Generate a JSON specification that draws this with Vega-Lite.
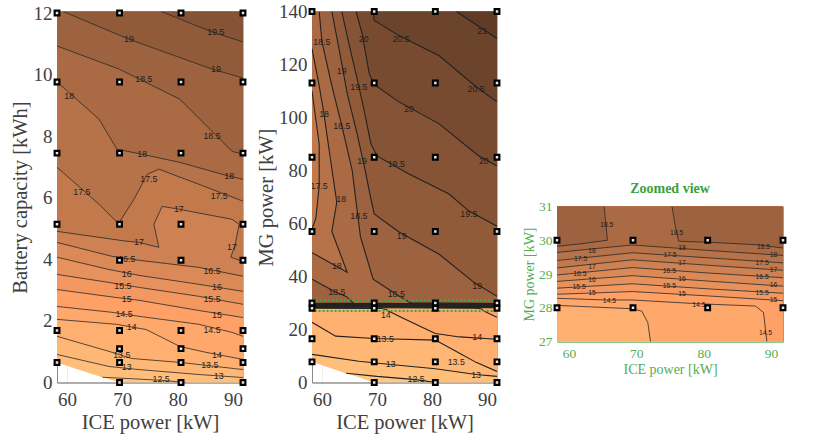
{
"$schema": "https://vega.github.io/schema/vega-lite/v6.json",
"padding": {"left": 9, "top": 1.5, "right": 5, "bottom": 5},
"background": "white",
"config": {
  "view": {"stroke": "#b5b5b5"},
  "axis": {"labelFont": "Liberation Serif", "titleFont": "Liberation Serif", "labelFontSize": 19, "titleFontSize": 20.5, "titleFontWeight": "normal", "labelColor": "#404040", "titleColor": "#404040", "domainColor": "#8a8a8a", "ticks": false, "grid": true, "gridColor": "#000000", "gridOpacity": 0.07, "zindex": 1},
  "axisX": {"labelPadding": 8, "titlePadding": 3},
  "axisY": {"labelPadding": 5, "titlePadding": 3}
},
"datasets": {
 "p1": [
  {"lv":12,"g":"p00","i":0,"x":58.2,"y":0.65},{"lv":12,"g":"p00","i":1,"x":69.5,"y":0},{"lv":12,"g":"p00","i":2,"x":91.8,"y":0},{"lv":12,"g":"p00","i":3,"x":91.8,"y":12.05},{"lv":12,"g":"p00","i":4,"x":58.2,"y":12.05},
  {"lv":12.5,"g":"p01","i":0,"x":66.4,"y":0.17,"k":"a01"},{"lv":12.5,"g":"p01","i":1,"x":72,"y":0.12,"k":"a01"},{"lv":12.5,"g":"p01","i":2,"x":77,"y":0.07,"k":"a01"},{"lv":12.5,"g":"p01","i":3,"x":81.5,"y":0,"k":"a01"},{"lv":12.5,"g":"p01","i":4,"x":91.8,"y":0},{"lv":12.5,"g":"p01","i":5,"x":91.8,"y":12.05},{"lv":12.5,"g":"p01","i":6,"x":58.2,"y":12.05},{"lv":12.5,"g":"p01","i":7,"x":58.2,"y":0.65},
  {"lv":13,"g":"p02","i":0,"x":58.2,"y":0.91,"k":"a02"},{"lv":13,"g":"p02","i":1,"x":67.6,"y":0.52,"k":"a02"},{"lv":13,"g":"p02","i":2,"x":73,"y":0.42,"k":"a02"},{"lv":13,"g":"p02","i":3,"x":83.8,"y":0.26,"k":"a02"},{"lv":13,"g":"p02","i":4,"x":91.8,"y":0.16,"k":"a02"},{"lv":13,"g":"p02","i":5,"x":91.8,"y":12.05},{"lv":13,"g":"p02","i":6,"x":58.2,"y":12.05},
  {"lv":13.5,"g":"p03","i":0,"x":58.2,"y":1.5,"k":"a03"},{"lv":13.5,"g":"p03","i":1,"x":67.6,"y":1.01,"k":"a03"},{"lv":13.5,"g":"p03","i":2,"x":71.7,"y":0.78,"k":"a03"},{"lv":13.5,"g":"p03","i":3,"x":80.6,"y":0.65,"k":"a03"},{"lv":13.5,"g":"p03","i":4,"x":91.8,"y":0.42,"k":"a03"},{"lv":13.5,"g":"p03","i":5,"x":91.8,"y":12.05},{"lv":13.5,"g":"p03","i":6,"x":58.2,"y":12.05},
  {"lv":14,"g":"p04","i":0,"x":58.2,"y":2.05,"k":"a04"},{"lv":14,"g":"p04","i":1,"x":68.9,"y":1.89,"k":"a04"},{"lv":14,"g":"p04","i":2,"x":74.3,"y":1.72,"k":"a04"},{"lv":14,"g":"p04","i":3,"x":80.4,"y":1.17,"k":"a04"},{"lv":14,"g":"p04","i":4,"x":85.1,"y":0.98,"k":"a04"},{"lv":14,"g":"p04","i":5,"x":91.8,"y":0.75,"k":"a04"},{"lv":14,"g":"p04","i":6,"x":91.8,"y":12.05},{"lv":14,"g":"p04","i":7,"x":58.2,"y":12.05},
  {"lv":14.5,"g":"p05","i":0,"x":58.2,"y":2.47,"k":"a05"},{"lv":14.5,"g":"p05","i":1,"x":68.1,"y":2.28,"k":"a05"},{"lv":14.5,"g":"p05","i":2,"x":73,"y":2.15,"k":"a05"},{"lv":14.5,"g":"p05","i":3,"x":83.8,"y":1.89,"k":"a05"},{"lv":14.5,"g":"p05","i":4,"x":89.8,"y":1.63,"k":"a05"},{"lv":14.5,"g":"p05","i":5,"x":91.8,"y":1.5,"k":"a05"},{"lv":14.5,"g":"p05","i":6,"x":91.8,"y":12.05},{"lv":14.5,"g":"p05","i":7,"x":58.2,"y":12.05},
  {"lv":15,"g":"p06","i":0,"x":58.2,"y":3.02,"k":"a06"},{"lv":15,"g":"p06","i":1,"x":68.9,"y":2.76,"k":"a06"},{"lv":15,"g":"p06","i":2,"x":73,"y":2.67,"k":"a06"},{"lv":15,"g":"p06","i":3,"x":83.8,"y":2.34,"k":"a06"},{"lv":15,"g":"p06","i":4,"x":91.8,"y":2.11,"k":"a06"},{"lv":15,"g":"p06","i":5,"x":91.8,"y":12.05},{"lv":15,"g":"p06","i":6,"x":58.2,"y":12.05},
  {"lv":15.5,"g":"p07","i":0,"x":58.2,"y":3.51,"k":"a07"},{"lv":15.5,"g":"p07","i":1,"x":67.6,"y":3.25,"k":"a07"},{"lv":15.5,"g":"p07","i":2,"x":73,"y":3.09,"k":"a07"},{"lv":15.5,"g":"p07","i":3,"x":83.8,"y":2.8,"k":"a07"},{"lv":15.5,"g":"p07","i":4,"x":91.8,"y":2.54,"k":"a07"},{"lv":15.5,"g":"p07","i":5,"x":91.8,"y":12.05},{"lv":15.5,"g":"p07","i":6,"x":58.2,"y":12.05},
  {"lv":16,"g":"p08","i":0,"x":58.2,"y":4.07,"k":"a08"},{"lv":16,"g":"p08","i":1,"x":67.6,"y":3.67,"k":"a08"},{"lv":16,"g":"p08","i":2,"x":73,"y":3.48,"k":"a08"},{"lv":16,"g":"p08","i":3,"x":83.8,"y":3.19,"k":"a08"},{"lv":16,"g":"p08","i":4,"x":91.8,"y":2.96,"k":"a08"},{"lv":16,"g":"p08","i":5,"x":91.8,"y":12.05},{"lv":16,"g":"p08","i":6,"x":58.2,"y":12.05},
  {"lv":16.5,"g":"p09","i":0,"x":58.2,"y":4.55,"k":"a09"},{"lv":16.5,"g":"p09","i":1,"x":68.1,"y":4.1,"k":"a09"},{"lv":16.5,"g":"p09","i":2,"x":73,"y":3.97,"k":"a09"},{"lv":16.5,"g":"p09","i":3,"x":83.8,"y":3.74,"k":"a09"},{"lv":16.5,"g":"p09","i":4,"x":91.8,"y":3.45,"k":"a09"},{"lv":16.5,"g":"p09","i":5,"x":91.8,"y":12.05},{"lv":16.5,"g":"p09","i":6,"x":58.2,"y":12.05},
  {"lv":17,"g":"p10","i":0,"x":58.2,"y":4.91,"k":"a10"},{"lv":17,"g":"p10","i":1,"x":70.7,"y":4.59,"k":"a10"},{"lv":17,"g":"p10","i":2,"x":73,"y":4.55,"k":"a10"},{"lv":17,"g":"p10","i":3,"x":76.6,"y":4.39,"k":"a10"},{"lv":17,"g":"p10","i":4,"x":75.7,"y":5.14,"k":"a10"},{"lv":17,"g":"p10","i":5,"x":77.2,"y":5.72,"k":"a10"},{"lv":17,"g":"p10","i":6,"x":80.2,"y":5.63,"k":"a10"},{"lv":17,"g":"p10","i":7,"x":89.8,"y":5.3,"k":"a10"},{"lv":17,"g":"p10","i":8,"x":91.1,"y":5.14,"k":"a10"},{"lv":17,"g":"p10","i":9,"x":90.4,"y":4.49,"k":"a10"},{"lv":17,"g":"p10","i":10,"x":89.6,"y":4.07,"k":"a10"},{"lv":17,"g":"p10","i":11,"x":91.8,"y":3.93,"k":"a10"},{"lv":17,"g":"p10","i":12,"x":91.8,"y":12.05},{"lv":17,"g":"p10","i":13,"x":58.2,"y":12.05},
  {"lv":17.5,"g":"p11","i":0,"x":58.2,"y":6.99,"k":"a11"},{"lv":17.5,"g":"p11","i":1,"x":62.7,"y":6.28,"k":"a11"},{"lv":17.5,"g":"p11","i":2,"x":65.8,"y":5.79,"k":"a11"},{"lv":17.5,"g":"p11","i":3,"x":69.3,"y":5.16,"k":"a11"},{"lv":17.5,"g":"p11","i":4,"x":72.1,"y":5.95,"k":"a11"},{"lv":17.5,"g":"p11","i":5,"x":74.5,"y":6.76,"k":"a11"},{"lv":17.5,"g":"p11","i":6,"x":76.6,"y":6.93,"k":"a11"},{"lv":17.5,"g":"p11","i":7,"x":83.8,"y":6.44,"k":"a11"},{"lv":17.5,"g":"p11","i":8,"x":91.8,"y":5.89,"k":"a11"},{"lv":17.5,"g":"p11","i":9,"x":91.8,"y":12.05},{"lv":17.5,"g":"p11","i":10,"x":58.2,"y":12.05},
  {"lv":18,"g":"p12","i":0,"x":58.2,"y":9.76,"k":"a12"},{"lv":18,"g":"p12","i":1,"x":61.3,"y":9.27,"k":"a12"},{"lv":18,"g":"p12","i":2,"x":65.8,"y":8.55,"k":"a12"},{"lv":18,"g":"p12","i":3,"x":69,"y":7.58,"k":"a12"},{"lv":18,"g":"p12","i":4,"x":73.6,"y":7.41,"k":"a12"},{"lv":18,"g":"p12","i":5,"x":80.4,"y":7.15,"k":"a12"},{"lv":18,"g":"p12","i":6,"x":89.3,"y":6.7,"k":"a12"},{"lv":18,"g":"p12","i":7,"x":91.8,"y":6.6,"k":"a12"},{"lv":18,"g":"p12","i":8,"x":91.8,"y":12.05},{"lv":18,"g":"p12","i":9,"x":58.2,"y":12.05},
  {"lv":18.5,"g":"p13","i":0,"x":58.2,"y":10.93,"k":"a13"},{"lv":18.5,"g":"p13","i":1,"x":69.4,"y":10.18,"k":"a13"},{"lv":18.5,"g":"p13","i":2,"x":80.4,"y":9.2,"k":"a13"},{"lv":18.5,"g":"p13","i":3,"x":89.8,"y":7.51,"k":"a13"},{"lv":18.5,"g":"p13","i":4,"x":91.8,"y":7.41,"k":"a13"},{"lv":18.5,"g":"p13","i":5,"x":91.8,"y":12.05},{"lv":18.5,"g":"p13","i":6,"x":58.2,"y":12.05},
  {"lv":19,"g":"p14","i":0,"x":59.3,"y":12.05,"k":"a14"},{"lv":19,"g":"p14","i":1,"x":71.2,"y":11.15,"k":"a14"},{"lv":19,"g":"p14","i":2,"x":86.2,"y":10.18,"k":"a14"},{"lv":19,"g":"p14","i":3,"x":91.8,"y":9.89,"k":"a14"},{"lv":19,"g":"p14","i":4,"x":91.8,"y":12.05},
  {"lv":19.5,"g":"p15","i":0,"x":77,"y":12.05,"k":"a15"},{"lv":19.5,"g":"p15","i":1,"x":86,"y":11.4,"k":"a15"},{"lv":19.5,"g":"p15","i":2,"x":91.8,"y":11.06,"k":"a15"},{"lv":19.5,"g":"p15","i":3,"x":91.8,"y":12.05}
 ],
 "p2": [
  {"lv":12,"g":"q00","i":0,"x":58.2,"y":7.8},{"lv":12,"g":"q00","i":1,"x":69.5,"y":0},{"lv":12,"g":"q00","i":2,"x":91.8,"y":0},{"lv":12,"g":"q00","i":3,"x":91.8,"y":140},{"lv":12,"g":"q00","i":4,"x":58.2,"y":140},
  {"lv":12.5,"g":"q01","i":0,"x":64.4,"y":3.52,"k":"b01"},{"lv":12.5,"g":"q01","i":1,"x":70,"y":2.3,"k":"b01"},{"lv":12.5,"g":"q01","i":2,"x":77,"y":1.1,"k":"b01"},{"lv":12.5,"g":"q01","i":3,"x":80.7,"y":0,"k":"b01"},{"lv":12.5,"g":"q01","i":4,"x":91.8,"y":0},{"lv":12.5,"g":"q01","i":5,"x":91.8,"y":140},{"lv":12.5,"g":"q01","i":6,"x":58.2,"y":140},{"lv":12.5,"g":"q01","i":7,"x":58.2,"y":7.8},
  {"lv":13,"g":"q02","i":0,"x":58.2,"y":10.6,"k":"b02"},{"lv":13,"g":"q02","i":1,"x":66.7,"y":8,"k":"b02"},{"lv":13,"g":"q02","i":2,"x":72.5,"y":6.8,"k":"b02"},{"lv":13,"g":"q02","i":3,"x":80.6,"y":5.2,"k":"b02"},{"lv":13,"g":"q02","i":4,"x":88,"y":3,"k":"b02"},{"lv":13,"g":"q02","i":5,"x":91.8,"y":2.3,"k":"b02"},{"lv":13,"g":"q02","i":6,"x":91.8,"y":140},{"lv":13,"g":"q02","i":7,"x":58.2,"y":140},
  {"lv":13.5,"g":"q03","i":0,"x":58.2,"y":22.7,"k":"b03"},{"lv":13.5,"g":"q03","i":1,"x":62.5,"y":17.5,"k":"b03"},{"lv":13.5,"g":"q03","i":2,"x":69.5,"y":16.6,"k":"b03"},{"lv":13.5,"g":"q03","i":3,"x":80.6,"y":16,"k":"b03"},{"lv":13.5,"g":"q03","i":4,"x":85,"y":11,"k":"b03"},{"lv":13.5,"g":"q03","i":5,"x":88,"y":7.6,"k":"b03"},{"lv":13.5,"g":"q03","i":6,"x":91.8,"y":4.2,"k":"b03"},{"lv":13.5,"g":"q03","i":7,"x":91.8,"y":140},{"lv":13.5,"g":"q03","i":8,"x":58.2,"y":140},
  {"lv":14,"g":"q04","i":0,"x":58.2,"y":28.07,"k":"b04"},{"lv":14,"g":"q04","i":1,"x":69.4,"y":27.97,"k":"b04"},{"lv":14,"g":"q04","i":2,"x":70.8,"y":27.9,"k":"b04"},{"lv":14,"g":"q04","i":3,"x":71.7,"y":27.56,"k":"b04"},{"lv":14,"g":"q04","i":4,"x":72.1,"y":27,"k":"b04"},{"lv":14,"g":"q04","i":5,"x":74,"y":25,"k":"b04"},{"lv":14,"g":"q04","i":6,"x":78,"y":21,"k":"b04"},{"lv":14,"g":"q04","i":7,"x":80.6,"y":18.5,"k":"b04"},{"lv":14,"g":"q04","i":8,"x":85,"y":17.2,"k":"b04"},{"lv":14,"g":"q04","i":9,"x":91.8,"y":16.3,"k":"b04"},{"lv":14,"g":"q04","i":10,"x":91.8,"y":140},{"lv":14,"g":"q04","i":11,"x":58.2,"y":140},
  {"lv":14.5,"g":"q05","i":0,"x":58.2,"y":28.28,"k":"b05"},{"lv":14.5,"g":"q05","i":1,"x":65.5,"y":28.23,"k":"b05"},{"lv":14.5,"g":"q05","i":2,"x":69.4,"y":28.23,"k":"b05"},{"lv":14.5,"g":"q05","i":3,"x":79,"y":28.12,"k":"b05"},{"lv":14.5,"g":"q05","i":4,"x":87.7,"y":28.05,"k":"b05"},{"lv":14.5,"g":"q05","i":5,"x":88.9,"y":27.86,"k":"b05"},{"lv":14.5,"g":"q05","i":6,"x":89.4,"y":27,"k":"b05"},{"lv":14.5,"g":"q05","i":7,"x":91.8,"y":24.6,"k":"b05"},{"lv":14.5,"g":"q05","i":8,"x":91.8,"y":140},{"lv":14.5,"g":"q05","i":9,"x":58.2,"y":140},
  {"lv":15,"g":"q06","i":0,"x":58.2,"y":28.4,"k":"b06"},{"lv":15,"g":"q06","i":1,"x":69.4,"y":28.48,"k":"b06"},{"lv":15,"g":"q06","i":2,"x":80.65,"y":28.35,"k":"b06"},{"lv":15,"g":"q06","i":3,"x":91.8,"y":28.21,"k":"b06"},{"lv":15,"g":"q06","i":4,"x":91.8,"y":140},{"lv":15,"g":"q06","i":5,"x":58.2,"y":140},
  {"lv":15.5,"g":"q07","i":0,"x":58.2,"y":28.58,"k":"b07"},{"lv":15.5,"g":"q07","i":1,"x":69.4,"y":28.71,"k":"b07"},{"lv":15.5,"g":"q07","i":2,"x":80.65,"y":28.56,"k":"b07"},{"lv":15.5,"g":"q07","i":3,"x":91.8,"y":28.43,"k":"b07"},{"lv":15.5,"g":"q07","i":4,"x":91.8,"y":140},{"lv":15.5,"g":"q07","i":5,"x":58.2,"y":140},
  {"lv":16,"g":"q08","i":0,"x":58.2,"y":28.78,"k":"b08"},{"lv":16,"g":"q08","i":1,"x":69.4,"y":28.95,"k":"b08"},{"lv":16,"g":"q08","i":2,"x":80.65,"y":28.79,"k":"b08"},{"lv":16,"g":"q08","i":3,"x":91.8,"y":28.64,"k":"b08"},{"lv":16,"g":"q08","i":4,"x":91.8,"y":140},{"lv":16,"g":"q08","i":5,"x":58.2,"y":140},
  {"lv":16.5,"g":"q09","i":0,"x":58.2,"y":28.97,"k":"b09"},{"lv":16.5,"g":"q09","i":1,"x":69.4,"y":29.19,"k":"b09"},{"lv":16.5,"g":"q09","i":2,"x":80.65,"y":29.03,"k":"b09"},{"lv":16.5,"g":"q09","i":3,"x":91.8,"y":28.89,"k":"b09"},{"lv":16.5,"g":"q09","i":4,"x":91.8,"y":140},{"lv":16.5,"g":"q09","i":5,"x":58.2,"y":140},
  {"lv":17,"g":"q10","i":0,"x":58.2,"y":29.18,"k":"b10"},{"lv":17,"g":"q10","i":1,"x":69.4,"y":29.42,"k":"b10"},{"lv":17,"g":"q10","i":2,"x":80.65,"y":29.26,"k":"b10"},{"lv":17,"g":"q10","i":3,"x":91.8,"y":29.11,"k":"b10"},{"lv":17,"g":"q10","i":4,"x":91.8,"y":140},{"lv":17,"g":"q10","i":5,"x":58.2,"y":140},
  {"lv":17.5,"g":"q11","i":0,"x":58.2,"y":29.4,"k":"b11"},{"lv":17.5,"g":"q11","i":1,"x":69.4,"y":29.63,"k":"b11"},{"lv":17.5,"g":"q11","i":2,"x":80.65,"y":29.48,"k":"b11"},{"lv":17.5,"g":"q11","i":3,"x":91.8,"y":29.33,"k":"b11"},{"lv":17.5,"g":"q11","i":4,"x":91.8,"y":140},{"lv":17.5,"g":"q11","i":5,"x":58.2,"y":140},{"lv":17.5,"g":"q11","i":6,"x":58.2,"y":110,"k":"b11t"},{"lv":17.5,"g":"q11","i":7,"x":59.5,"y":90,"k":"b11t"},{"lv":17.5,"g":"q11","i":8,"x":59.5,"y":74,"k":"b11t"},{"lv":17.5,"g":"q11","i":9,"x":58.9,"y":62,"k":"b11t"},{"lv":17.5,"g":"q11","i":10,"x":58.2,"y":58,"k":"b11t"},
  {"lv":18,"g":"q12","i":0,"x":58.2,"y":29.64,"k":"b12"},{"lv":18,"g":"q12","i":1,"x":69.4,"y":29.86,"k":"b12"},{"lv":18,"g":"q12","i":2,"x":80.65,"y":29.7,"k":"b12"},{"lv":18,"g":"q12","i":3,"x":91.8,"y":29.55,"k":"b12"},{"lv":18,"g":"q12","i":4,"x":91.8,"y":140},{"lv":18,"g":"q12","i":5,"x":58.2,"y":140},{"lv":18,"g":"q12","i":6,"x":58.2,"y":126,"k":"b12t"},{"lv":18,"g":"q12","i":7,"x":59.5,"y":112,"k":"b12t"},{"lv":18,"g":"q12","i":8,"x":60.4,"y":101,"k":"b12t"},{"lv":18,"g":"q12","i":9,"x":61.5,"y":85,"k":"b12t"},{"lv":18,"g":"q12","i":10,"x":62.7,"y":68,"k":"b12t"},{"lv":18,"g":"q12","i":11,"x":61.8,"y":57,"k":"b12t"},{"lv":18,"g":"q12","i":12,"x":64.6,"y":41.6,"k":"b12t"},{"lv":18,"g":"q12","i":13,"x":58.2,"y":49,"k":"b12t"},
  {"lv":18.5,"g":"q13","i":0,"x":59.5,"y":140,"k":"b13"},{"lv":18.5,"g":"q13","i":1,"x":60,"y":128.6,"k":"b13"},{"lv":18.5,"g":"q13","i":2,"x":61.8,"y":112,"k":"b13"},{"lv":18.5,"g":"q13","i":3,"x":63.6,"y":97,"k":"b13"},{"lv":18.5,"g":"q13","i":4,"x":65.5,"y":80,"k":"b13"},{"lv":18.5,"g":"q13","i":5,"x":66.4,"y":65,"k":"b13"},{"lv":18.5,"g":"q13","i":6,"x":67,"y":55,"k":"b13"},{"lv":18.5,"g":"q13","i":7,"x":69.3,"y":39,"k":"b13"},{"lv":18.5,"g":"q13","i":8,"x":73.5,"y":33.3,"k":"b13"},{"lv":18.5,"g":"q13","i":9,"x":75.3,"y":31,"k":"b13"},{"lv":18.5,"g":"q13","i":10,"x":75.8,"y":30.4,"k":"b13"},{"lv":18.5,"g":"q13","i":11,"x":76.3,"y":29.97,"k":"b13"},{"lv":18.5,"g":"q13","i":12,"x":80.8,"y":29.94,"k":"b13"},{"lv":18.5,"g":"q13","i":13,"x":87.7,"y":29.87,"k":"b13"},{"lv":18.5,"g":"q13","i":14,"x":91.8,"y":29.77,"k":"b13"},{"lv":18.5,"g":"q13","i":15,"x":91.8,"y":140},
  {"lv":18.5,"g":"q13p","i":0,"x":58.2,"y":39,"k":"b13p"},{"lv":18.5,"g":"q13p","i":1,"x":62.2,"y":34.4,"k":"b13p"},{"lv":18.5,"g":"q13p","i":2,"x":64.4,"y":32.5,"k":"b13p"},{"lv":18.5,"g":"q13p","i":3,"x":65.2,"y":31,"k":"b13p"},{"lv":18.5,"g":"q13p","i":4,"x":65.7,"y":30,"k":"b13p"},{"lv":18.5,"g":"q13p","i":5,"x":61.9,"y":29.9,"k":"b13p"},{"lv":18.5,"g":"q13p","i":6,"x":58.2,"y":29.82,"k":"b13p"},
  {"lv":19,"g":"q14","i":0,"x":61.8,"y":140,"k":"b14"},{"lv":19,"g":"q14","i":1,"x":63.1,"y":126,"k":"b14"},{"lv":19,"g":"q14","i":2,"x":64.6,"y":109,"k":"b14"},{"lv":19,"g":"q14","i":3,"x":66.4,"y":93.8,"k":"b14"},{"lv":19,"g":"q14","i":4,"x":67.8,"y":80.6,"k":"b14"},{"lv":19,"g":"q14","i":5,"x":68.9,"y":69.2,"k":"b14"},{"lv":19,"g":"q14","i":6,"x":69.5,"y":63.6,"k":"b14"},{"lv":19,"g":"q14","i":7,"x":74,"y":56.8,"k":"b14"},{"lv":19,"g":"q14","i":8,"x":81.3,"y":48.4,"k":"b14"},{"lv":19,"g":"q14","i":9,"x":87.6,"y":37.8,"k":"b14"},{"lv":19,"g":"q14","i":10,"x":91.8,"y":32.5,"k":"b14"},{"lv":19,"g":"q14","i":11,"x":91.8,"y":140},
  {"lv":19.5,"g":"q15","i":0,"x":63.6,"y":140,"k":"b15"},{"lv":19.5,"g":"q15","i":1,"x":64.9,"y":127.9,"k":"b15"},{"lv":19.5,"g":"q15","i":2,"x":66.4,"y":114.6,"k":"b15"},{"lv":19.5,"g":"q15","i":3,"x":67.6,"y":103.3,"k":"b15"},{"lv":19.5,"g":"q15","i":4,"x":68.9,"y":90.1,"k":"b15"},{"lv":19.5,"g":"q15","i":5,"x":70,"y":85.5,"k":"b15"},{"lv":19.5,"g":"q15","i":6,"x":75.8,"y":78.7,"k":"b15"},{"lv":19.5,"g":"q15","i":7,"x":83.1,"y":71.1,"k":"b15"},{"lv":19.5,"g":"q15","i":8,"x":86.7,"y":64.7,"k":"b15"},{"lv":19.5,"g":"q15","i":9,"x":91.8,"y":59,"k":"b15"},{"lv":19.5,"g":"q15","i":10,"x":91.8,"y":140},
  {"lv":20,"g":"q16","i":0,"x":66.2,"y":140,"k":"b16"},{"lv":20,"g":"q16","i":1,"x":67.3,"y":131.7,"k":"b16"},{"lv":20,"g":"q16","i":2,"x":68.6,"y":116.5,"k":"b16"},{"lv":20,"g":"q16","i":3,"x":69.5,"y":112.4,"k":"b16"},{"lv":20,"g":"q16","i":4,"x":74,"y":105.9,"k":"b16"},{"lv":20,"g":"q16","i":5,"x":81.3,"y":97.6,"k":"b16"},{"lv":20,"g":"q16","i":6,"x":88.5,"y":85.5,"k":"b16"},{"lv":20,"g":"q16","i":7,"x":91.8,"y":81.7,"k":"b16"},{"lv":20,"g":"q16","i":8,"x":91.8,"y":140},
  {"lv":20.5,"g":"q17","i":0,"x":69.3,"y":140,"k":"b17"},{"lv":20.5,"g":"q17","i":1,"x":69.5,"y":136.6,"k":"b17"},{"lv":20.5,"g":"q17","i":2,"x":74,"y":130.9,"k":"b17"},{"lv":20.5,"g":"q17","i":3,"x":81.3,"y":123.3,"k":"b17"},{"lv":20.5,"g":"q17","i":4,"x":88,"y":111.6,"k":"b17"},{"lv":20.5,"g":"q17","i":5,"x":91.8,"y":105.9,"k":"b17"},{"lv":20.5,"g":"q17","i":6,"x":91.8,"y":140},
  {"lv":21,"g":"q18","i":0,"x":84.4,"y":140,"k":"b18"},{"lv":21,"g":"q18","i":1,"x":91.8,"y":129.8,"k":"b18"},{"lv":21,"g":"q18","i":2,"x":91.8,"y":140}
 ],
 "lab1": [
  {"x":86.9,"y":11.38,"t":"19.5"},{"x":71.2,"y":11.15,"t":"19"},{"x":86.9,"y":10.18,"t":"19"},{"x":73.9,"y":9.85,"t":"18.5"},{"x":86.2,"y":8.0,"t":"18.5"},{"x":60.4,"y":9.3,"t":"18"},{"x":73.6,"y":7.41,"t":"18"},{"x":89.3,"y":6.7,"t":"18"},{"x":62.7,"y":6.18,"t":"17.5"},{"x":74.8,"y":6.6,"t":"17.5"},{"x":87.5,"y":6.05,"t":"17.5"},{"x":80.2,"y":5.63,"t":"17"},{"x":73.0,"y":4.55,"t":"17"},{"x":89.8,"y":4.39,"t":"17"},{"x":70.8,"y":4.0,"t":"16.5"},{"x":86.2,"y":3.61,"t":"16.5"},{"x":70.8,"y":3.51,"t":"16"},{"x":87.1,"y":3.09,"t":"16"},{"x":70.1,"y":3.12,"t":"15.5"},{"x":86.2,"y":2.7,"t":"15.5"},{"x":70.8,"y":2.7,"t":"15"},{"x":87.1,"y":2.18,"t":"15"},{"x":70.3,"y":2.24,"t":"14.5"},{"x":86.2,"y":1.72,"t":"14.5"},{"x":71.7,"y":1.79,"t":"14"},{"x":87.1,"y":0.9,"t":"14"},{"x":69.9,"y":0.88,"t":"13.5"},{"x":85.8,"y":0.56,"t":"13.5"},{"x":70.8,"y":0.49,"t":"13"},{"x":87.4,"y":0.2,"t":"13"},{"x":77.0,"y":0.1,"t":"12.5"}
 ],
 "lab2": [
  {"x":89.1,"y":132.8,"t":"21"},{"x":74.4,"y":129.8,"t":"20.5"},{"x":88,"y":110.9,"t":"20.5"},{"x":67.6,"y":129.8,"t":"20"},{"x":75.8,"y":103.3,"t":"20"},{"x":89.4,"y":83.6,"t":"20"},{"x":66.7,"y":111.6,"t":"19.5"},{"x":73.5,"y":82.5,"t":"19.5"},{"x":86.7,"y":63.6,"t":"19.5"},{"x":63.6,"y":117.7,"t":"19"},{"x":67.3,"y":83.6,"t":"19"},{"x":74.5,"y":55.2,"t":"19"},{"x":88.2,"y":36.3,"t":"19"},{"x":60,"y":128.6,"t":"18.5"},{"x":63.6,"y":96.9,"t":"18.5"},{"x":66.7,"y":62.8,"t":"18.5"},{"x":62.7,"y":34,"t":"18.5"},{"x":73.5,"y":33.3,"t":"18.5"},{"x":60.4,"y":101.4,"t":"18"},{"x":63.5,"y":69.2,"t":"18"},{"x":62.7,"y":43.9,"t":"18"},{"x":59.5,"y":74.2,"t":"17.5"},{"x":71.6,"y":25.5,"t":"14"},{"x":88.2,"y":17,"t":"14"},{"x":71.5,"y":16.3,"t":"13.5"},{"x":84.4,"y":7.6,"t":"13.5"},{"x":72.5,"y":6.8,"t":"13"},{"x":88,"y":3,"t":"13"},{"x":77.1,"y":1.3,"t":"12.5"}
 ],
 "lab3": [
  {"x":65.6,"y":30.46,"t":"18.5"},{"x":76.0,"y":30.21,"t":"18.5"},{"x":88.9,"y":29.79,"t":"18.5"},
  {"x":63.4,"y":29.67,"t":"18"},{"x":76.8,"y":29.76,"t":"18"},{"x":90.4,"y":29.56,"t":"18"},
  {"x":61.7,"y":29.43,"t":"17.5"},{"x":75.0,"y":29.55,"t":"17.5"},{"x":88.7,"y":29.34,"t":"17.5"},
  {"x":63.4,"y":29.22,"t":"17"},{"x":76.8,"y":29.33,"t":"17"},{"x":90.4,"y":29.12,"t":"17"},
  {"x":61.6,"y":29.01,"t":"16.5"},{"x":74.9,"y":29.1,"t":"16.5"},{"x":88.7,"y":28.91,"t":"16.5"},
  {"x":63.4,"y":28.82,"t":"16"},{"x":76.8,"y":28.86,"t":"16"},{"x":90.4,"y":28.66,"t":"16"},
  {"x":61.5,"y":28.62,"t":"15.5"},{"x":74.9,"y":28.63,"t":"15.5"},{"x":88.7,"y":28.44,"t":"15.5"},
  {"x":63.4,"y":28.43,"t":"15"},{"x":76.8,"y":28.4,"t":"15"},{"x":90.4,"y":28.22,"t":"15"},
  {"x":66.0,"y":28.2,"t":"14.5"},{"x":79.3,"y":28.08,"t":"14.5"},{"x":89.2,"y":27.25,"t":"14.5"}
 ],
 "pts1": [
  {"x":58.2,"y":12},{"x":58.2,"y":9.76},{"x":58.2,"y":7.45},{"x":58.2,"y":5.14},{"x":58.2,"y":1.69},{"x":58.2,"y":0.65},
  {"x":69.5,"y":12},{"x":69.5,"y":9.76},{"x":69.5,"y":7.45},{"x":69.5,"y":5.14},{"x":69.5,"y":3.97},{"x":69.5,"y":1.69},{"x":69.5,"y":1.1},{"x":69.5,"y":0.65},{"x":69.5,"y":0},
  {"x":80.6,"y":12},{"x":80.6,"y":9.76},{"x":80.6,"y":7.45},{"x":80.6,"y":5.14},{"x":80.6,"y":3.97},{"x":80.6,"y":1.69},{"x":80.6,"y":1.1},{"x":80.6,"y":0.65},{"x":80.6,"y":0},
  {"x":91.8,"y":12},{"x":91.8,"y":9.76},{"x":91.8,"y":7.45},{"x":91.8,"y":5.14},{"x":91.8,"y":3.97},{"x":91.8,"y":1.69},{"x":91.8,"y":1.1},{"x":91.8,"y":0.65},{"x":91.8,"y":0}
 ],
 "pts2": [
  {"x":58.2,"y":140},{"x":58.2,"y":113},{"x":58.2,"y":85},{"x":58.2,"y":57},{"x":58.2,"y":30},{"x":58.2,"y":28},{"x":58.2,"y":16.5},{"x":58.2,"y":7.8},
  {"x":69.5,"y":140},{"x":69.5,"y":113},{"x":69.5,"y":85},{"x":69.5,"y":57},{"x":69.5,"y":30},{"x":69.5,"y":28},{"x":69.5,"y":16.5},{"x":69.5,"y":7.8},{"x":69.5,"y":0},
  {"x":80.6,"y":140},{"x":80.6,"y":113},{"x":80.6,"y":85},{"x":80.6,"y":57},{"x":80.6,"y":30},{"x":80.6,"y":28},{"x":80.6,"y":16.5},{"x":80.6,"y":7.8},{"x":80.6,"y":0},
  {"x":91.8,"y":140},{"x":91.8,"y":113},{"x":91.8,"y":85},{"x":91.8,"y":57},{"x":91.8,"y":30},{"x":91.8,"y":28},{"x":91.8,"y":16.5},{"x":91.8,"y":7.8},{"x":91.8,"y":0}
 ],
 "box": [{"x1":58.2,"x2":91.8,"y1":27,"y2":31}]
},
"spacing": 20,
"bounds": "flush",
"hconcat": [
 {
  "width": 186, "height": 371,
  "encoding": {
    "x": {"field": "x", "type": "quantitative", "scale": {"domain": [58.2, 91.8], "nice": false, "zero": false}, "axis": {"title": "ICE power [kW]", "values": [60, 70, 80, 90]}},
    "y": {"field": "y", "type": "quantitative", "scale": {"domain": [0, 12.05], "nice": false, "zero": false}, "axis": {"title": "Battery capacity [kWh]", "values": [0, 2, 4, 6, 8, 10, 12]}}
  },
  "layer": [
    {"data": {"name": "p1"}, "mark": {"type": "line", "interpolate": "linear-closed", "strokeWidth": 0, "clip": true},
     "encoding": {"order": {"field": "i", "type": "quantitative"}, "detail": {"field": "g", "type": "nominal"},
       "fill": {"field": "lv", "type": "quantitative", "legend": null, "scale": {"domain": [12, 14.5, 21], "range": ["#ffc77f", "#ffa066", "#603c26"], "interpolate": "rgb"}}}},
    {"data": {"name": "p1"}, "transform": [{"filter": "isValid(datum.k)"}], "mark": {"type": "line", "color": "#2a2a2a", "strokeWidth": 0.8, "clip": true},
     "encoding": {"order": {"field": "i", "type": "quantitative"}, "detail": {"field": "k", "type": "nominal"}}},
    {"data": {"name": "lab1"}, "mark": {"type": "text", "font": "Liberation Sans", "fontSize": 8.8, "color": "#1e1e1e", "clip": true}, "encoding": {"text": {"field": "t"}}},
    {"data": {"name": "pts1"}, "mark": {"type": "point", "shape": "square", "size": 22, "filled": true, "fill": "#e8e8e8", "stroke": "#000000", "strokeWidth": 2.2, "opacity": 1}}
  ]
 },
 {"width": 29, "height": 371, "data": {"values": []}, "mark": "point", "view": {"stroke": null}},
 {
  "width": 185, "height": 371,
  "encoding": {
    "x": {"field": "x", "type": "quantitative", "scale": {"domain": [58.2, 91.8], "nice": false, "zero": false}, "axis": {"title": "ICE power [kW]", "values": [60, 70, 80, 90]}},
    "y": {"field": "y", "type": "quantitative", "scale": {"domain": [0, 140], "nice": false, "zero": false}, "axis": {"title": "MG power [kW]", "values": [0, 20, 40, 60, 80, 100, 120, 140], "titlePadding": 2}}
  },
  "layer": [
    {"data": {"name": "p2"}, "mark": {"type": "line", "interpolate": "linear-closed", "strokeWidth": 0, "clip": true},
     "encoding": {"order": {"field": "i", "type": "quantitative"}, "detail": {"field": "g", "type": "nominal"},
       "fill": {"field": "lv", "type": "quantitative", "legend": null, "scale": {"domain": [12, 14.5, 21], "range": ["#ffc77f", "#ffa066", "#603c26"], "interpolate": "rgb"}}}},
    {"data": {"name": "p2"}, "transform": [{"filter": "isValid(datum.k)"}], "mark": {"type": "line", "color": "#222222", "strokeWidth": 1.1, "clip": true},
     "encoding": {"order": {"field": "i", "type": "quantitative"}, "detail": {"field": "k", "type": "nominal"}}},
    {"data": {"name": "lab2"}, "mark": {"type": "text", "font": "Liberation Sans", "fontSize": 8.8, "color": "#1e1e1e", "clip": true}, "encoding": {"text": {"field": "t"}}},
    {"data": {"name": "box"}, "mark": {"type": "rect", "fill": null, "stroke": "#3aa83a", "strokeWidth": 2, "strokeDash": [2, 2], "clip": true},
     "encoding": {"x": {"field": "x1", "type": "quantitative"}, "x2": {"field": "x2"}, "y": {"field": "y1", "type": "quantitative"}, "y2": {"field": "y2"}}},
    {"data": {"name": "pts2"}, "mark": {"type": "point", "shape": "square", "size": 22, "filled": true, "fill": "#e8e8e8", "stroke": "#000000", "strokeWidth": 2.2, "opacity": 1}}
  ]
 },
 {"width": 20, "height": 371, "data": {"values": []}, "mark": "point", "view": {"stroke": null}},
 {
  "spacing": 0,
  "bounds": "flush",
  "vconcat": [
   {"width": 226, "height": 195, "data": {"values": []}, "mark": "point", "view": {"stroke": null}},
   {
    "width": 226, "height": 135,
    "title": {"text": "Zoomed view", "font": "Liberation Serif", "fontSize": 14, "fontWeight": "bold", "color": "#3d9e3d", "offset": 4},
    "view": {"stroke": "#6bbf6b"},
    "encoding": {
      "x": {"field": "x", "type": "quantitative", "scale": {"domain": [58.2, 91.8], "nice": false, "zero": false}, "axis": {"title": "ICE power [kW]", "values": [60, 70, 80, 90], "labelFontSize": 13.5, "titleFontSize": 14, "labelColor": "#52ad52", "titleColor": "#52ad52", "domainColor": "#6bbf6b", "labelPadding": 5, "titlePadding": 2}},
      "y": {"field": "y", "type": "quantitative", "scale": {"domain": [27, 31], "nice": false, "zero": false}, "axis": {"title": "MG power [kW]", "values": [27, 28, 29, 30, 31], "labelFontSize": 13.5, "titleFontSize": 14, "labelColor": "#52ad52", "titleColor": "#52ad52", "domainColor": "#6bbf6b", "labelPadding": 5, "titlePadding": 2}}
    },
    "layer": [
      {"data": {"name": "p2"}, "mark": {"type": "line", "interpolate": "linear-closed", "strokeWidth": 0, "clip": true},
       "encoding": {"order": {"field": "i", "type": "quantitative"}, "detail": {"field": "g", "type": "nominal"},
         "fill": {"field": "lv", "type": "quantitative", "legend": null, "scale": {"domain": [12, 14.5, 21], "range": ["#ffc77f", "#ffa066", "#603c26"], "interpolate": "rgb"}}}},
      {"data": {"name": "p2"}, "transform": [{"filter": "isValid(datum.k)"}], "mark": {"type": "line", "color": "#2a2a2a", "strokeWidth": 0.8, "clip": true},
       "encoding": {"order": {"field": "i", "type": "quantitative"}, "detail": {"field": "k", "type": "nominal"}}},
      {"data": {"name": "lab3"}, "mark": {"type": "text", "font": "Liberation Sans", "fontSize": 6.8, "color": "#1e1e1e", "clip": true}, "encoding": {"text": {"field": "t"}}},
      {"data": {"name": "pts2"}, "transform": [{"filter": "datum.y >= 27 && datum.y <= 31"}], "mark": {"type": "point", "shape": "square", "size": 22, "filled": true, "fill": "#e8e8e8", "stroke": "#000000", "strokeWidth": 2.2, "opacity": 1}}
    ]
   }
  ]
 }
]
}
